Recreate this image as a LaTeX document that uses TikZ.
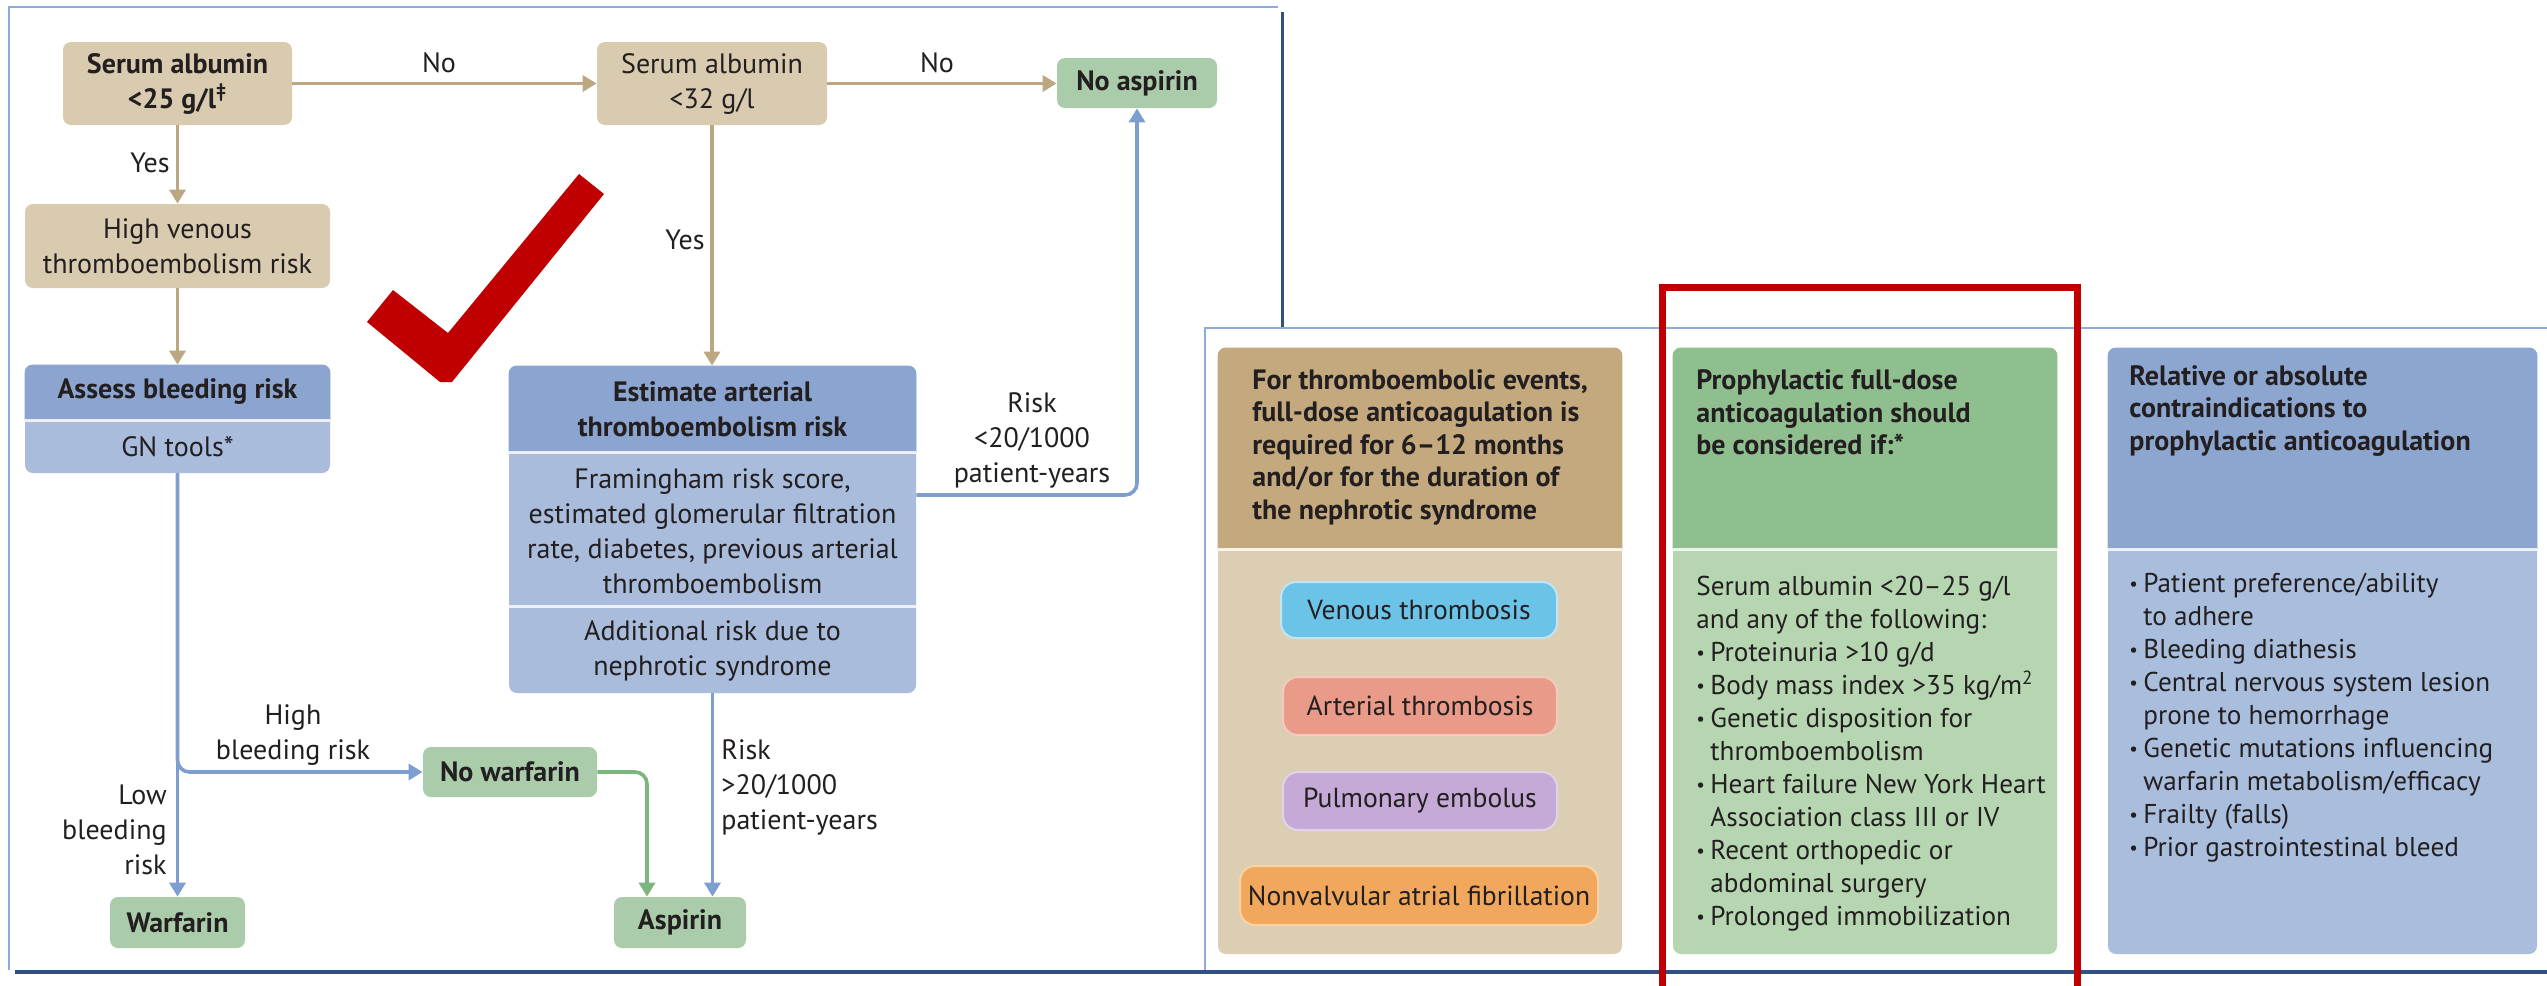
\documentclass[tikz,border=0pt]{standalone}
\usepackage{fontspec}
\setmainfont{PT Sans}
\usetikzlibrary{arrows.meta}

\definecolor{ink}{HTML}{231F20}
\definecolor{tanfill}{HTML}{D9CBB0}
\definecolor{tanline}{HTML}{BBA881}
\definecolor{bluehdr}{HTML}{8BA5D0}
\definecolor{bluebody}{HTML}{A9BCDB}
\definecolor{blueline}{HTML}{7E9ED0}
\definecolor{greenfill}{HTML}{AACCAA}
\definecolor{greenline}{HTML}{7DB57F}
\definecolor{frameblue}{HTML}{8FAADC}
\definecolor{darkblue}{HTML}{2F5080}
\definecolor{checkred}{HTML}{C00000}
\definecolor{cAhdr}{HTML}{C3A97D}
\definecolor{cAbody}{HTML}{DCCEB2}
\definecolor{cBhdr}{HTML}{8FBF8F}
\definecolor{cBbody}{HTML}{B6D6B1}
\definecolor{cChdr}{HTML}{8DA6D0}
\definecolor{cCbody}{HTML}{A9BDDD}
\definecolor{venfill}{HTML}{6CC3E8}
\definecolor{venedge}{HTML}{BFE4F4}
\definecolor{artfill}{HTML}{E99A88}
\definecolor{artedge}{HTML}{F5CABD}
\definecolor{pulfill}{HTML}{C5A9D6}
\definecolor{puledge}{HTML}{E2D3EB}
\definecolor{nvffill}{HTML}{F2A85C}
\definecolor{nvfedge}{HTML}{F9D3A5}

% bullet with hanging indent for the lists
\newcommand\bul{\makebox[7pt][l]{\raisebox{0.15ex}{\scalebox{0.7}{•}}}}
\newcommand\cont{\makebox[7pt][l]{}}

\begin{document}
\begin{tikzpicture}[x=0.5pt,y=-0.5pt,
  flowfont/.style={font=\fontsize{14pt}{17.5pt}\selectfont},
  flowbold/.style={font=\bfseries\fontsize{14pt}{17.5pt}\selectfont},
  flow/.style={rounded corners=4pt, inner sep=0pt, align=center, text=ink, flowfont},
  tanbox/.style={flow, fill=tanfill},
  greenbox/.style={flow, fill=greenfill, flowbold},
  lbl/.style={inner sep=0pt, text=ink, align=center, flowfont},
  tip/.style={-{Triangle[width=8pt,length=7pt]}},
  tanarrow/.style={draw=tanline, line width=1.8pt, tip},
  bluearrow/.style={draw=blueline, line width=1.8pt, tip},
  greenarrow/.style={draw=greenline, line width=1.8pt, tip},
  sepline/.style={draw=white, line width=1.5pt, opacity=0.8},
  frame/.style={draw=frameblue, line width=1pt},
  darkframe/.style={draw=darkblue, line width=1.5pt},
  colbox/.style={rounded corners=4pt, inner sep=0pt},
  hdtext/.style={inner sep=0pt, text=ink, align=left, anchor=west,
    font=\bfseries\fontsize{14pt}{16.25pt}\selectfont},
  bdtext/.style={inner sep=0pt, text=ink, align=left, anchor=west,
    font=\fontsize{13.6pt}{16.5pt}\selectfont},
  pill/.style={rounded corners=7.5pt, inner sep=0pt, line width=1pt, text=ink,
    font=\fontsize{13.8pt}{16pt}\selectfont}
]
\clip (0,0) rectangle (2547,985);
\fill[white] (0,0) rectangle (2547,985);

% panel frames
\draw[frame] (9,970) -- (9,7) -- (1278,7);
\draw[darkframe] (1282,12) -- (1282,328);
\draw[frame] (1205,970) -- (1205,328) -- (2547,328);
\draw[darkframe, line width=2pt] (15,972) -- (2547,972);

% ---------------- flowchart ----------------
\node[tanbox, flowbold, minimum width=114.5pt, minimum height=41.5pt] (alb25) at (177.5,83.5)
  {Serum albumin\\<25 g/l\textsuperscript{‡}};
\node[tanbox, minimum width=115pt, minimum height=41.5pt] (alb32) at (712,83.5)
  {Serum albumin\\<32 g/l};
\node[greenbox, minimum width=80pt, minimum height=25pt] (noasp) at (1137,83) {No aspirin};
\node[tanbox, minimum width=152.5pt, minimum height=42pt] (hvte) at (177.5,246)
  {High venous\\thromboembolism risk};

% bleeding risk box: header and body
\node[flow, fill=bluebody, minimum width=152.5pt, minimum height=54pt] (assess) at (177.5,419) {};
\begin{scope}
  \clip (20,360) rectangle (335,419);
  \fill[bluehdr, rounded corners=4pt] (assess.north west) rectangle (assess.south east);
\end{scope}
\draw[sepline] (assess.west |- 0,420) -- (assess.east |- 0,420);
\node[lbl, flowbold] (assesshd) at (177.5,392) {Assess bleeding risk};
\node[lbl] (gntools) at (177.5,447) {GN tools*};

% arterial risk box: header and two sections
\node[flow, fill=bluebody, minimum width=203.5pt, minimum height=163.5pt] (est) at (712.5,529.5) {};
\begin{scope}
  \clip (500,360) rectangle (925,451);
  \fill[bluehdr, rounded corners=4pt] (est.north west) rectangle (est.south east);
\end{scope}
\draw[sepline] (est.west |- 0,452) -- (est.east |- 0,452);
\draw[sepline] (est.west |- 0,606.5) -- (est.east |- 0,606.5);
\node[lbl, flowbold] (esthd) at (712.5,409) {Estimate arterial\\thromboembolism risk};
\node[lbl] (estfac) at (712.5,531) {Framingham risk score,\\estimated glomerular filtration\\rate, diabetes, previous arterial\\thromboembolism};
\node[lbl] (estneph) at (712.5,651) {Additional risk due to\\nephrotic syndrome};

\node[greenbox, minimum width=87pt, minimum height=25pt] (nowarf) at (510,772) {No warfarin};
\node[greenbox, minimum width=67.5pt, minimum height=25.5pt] (warf) at (177.5,922.5) {Warfarin};
\node[greenbox, minimum width=66pt, minimum height=25.5pt] (asp) at (680,922.5) {Aspirin};

% connectors
\draw[tanarrow] (alb25.east) -- (alb32.west);
\draw[tanarrow] (alb32.east) -- (alb32.east -| noasp.west);
\draw[tanarrow] (alb25.south) -- (hvte.north);
\draw[tanarrow] (hvte.south) -- (assess.north);
\draw[tanarrow] (alb32.south) -- (alb32.south |- est.north);
\draw[bluearrow] (assess.south) -- (warf.north);
\draw[bluearrow, rounded corners=6pt] (assess.south) |- (nowarf.west);
\draw[bluearrow, rounded corners=6pt] ([yshift=17.25pt]est.east) -| (noasp.south);
\draw[bluearrow] (est.south) -- (est.south |- asp.north);
\draw[greenarrow, rounded corners=6pt] (nowarf.east) -| ([xshift=-16.5pt]asp.north);

% connector labels
\node[lbl] (no1) at (439,63) {No};
\node[lbl] (no2) at (937,63) {No};
\node[lbl] (yes1) at (150,163) {Yes};
\node[lbl] (yes2) at (685,240) {Yes};
\node[lbl] (highbl) at (293,735) {High\\bleeding risk};
\node[lbl, align=right, anchor=east] (lowbl) at (167,830) {Low\\bleeding\\risk};
\node[lbl, align=left, anchor=west] (riskhi) at (721,787) {Risk\\>20/1000\\patient-years};
\node[lbl] (risklo) at (1032,440) {Risk\\<20/1000\\patient-years};

% ---------------- recommendation columns ----------------
\node[colbox, fill=cAbody, minimum width=202pt, minimum height=303pt] (colA) at (1420,651) {};
\node[colbox, fill=cBbody, minimum width=192pt, minimum height=303pt] (colB) at (1865,651) {};
\node[colbox, fill=cCbody, minimum width=214.5pt, minimum height=303pt] (colC) at (2322.5,651) {};
\begin{scope}
  \clip (1200,340) rectangle (2547,548);
  \fill[cAhdr, rounded corners=4pt] (colA.north west) rectangle (colA.south east);
  \fill[cBhdr, rounded corners=4pt] (colB.north west) rectangle (colB.south east);
  \fill[cChdr, rounded corners=4pt] (colC.north west) rectangle (colC.south east);
\end{scope}
\draw[sepline] (colA.west |- 0,549) -- (colA.east |- 0,549);
\draw[sepline] (colB.west |- 0,549) -- (colB.east |- 0,549);
\draw[sepline] (colC.west |- 0,549) -- (colC.east |- 0,549);

\node[hdtext] (colAhd) at (1252,447) {For thromboembolic events,\\full-dose anticoagulation is\\required for 6–12 months\\and/or for the duration of\\the nephrotic syndrome};
\node[hdtext] (colBhd) at (1696,412.5) {Prophylactic full-dose\\anticoagulation should\\be considered if:*};
\node[hdtext] (colChd) at (2129,411) {Relative or absolute\\contraindications to\\prophylactic anticoagulation};

\node[pill, fill=venfill, draw=venedge, minimum width=138pt, minimum height=28pt] (venous) at (1419,610) {Venous thrombosis};
\node[pill, fill=artfill, draw=artedge, minimum width=137pt, minimum height=29pt] (arterial) at (1420,706) {Arterial thrombosis};
\node[pill, fill=pulfill, draw=puledge, minimum width=137pt, minimum height=29pt] (pulm) at (1420,801) {Pulmonary embolus};
\node[pill, fill=nvffill, draw=nvfedge, minimum width=179pt, minimum height=29.5pt] (nvaf) at (1419,895.5) {Nonvalvular atrial fibrillation};

\node[bdtext] (colBbd) at (1696,754) {Serum albumin <20–25 g/l\\and any of the following:\\
\bul Proteinuria >10 g/d\\
\bul Body mass index >35 kg/m\textsuperscript{2}\\
\bul Genetic disposition for\\\cont thromboembolism\\
\bul Heart failure New York Heart\\\cont Association class III or IV\\
\bul Recent orthopedic or\\\cont abdominal surgery\\
\bul Prolonged immobilization};
\node[bdtext] (colCbd) at (2129,718) {\bul Patient preference/ability\\\cont to adhere\\
\bul Bleeding diathesis\\
\bul Central nervous system lesion\\\cont prone to hemorrhage\\
\bul Genetic mutations influencing\\\cont warfarin metabolism/efficacy\\
\bul Frailty (falls)\\
\bul Prior gastrointestinal bleed};

% ---------------- highlight marks ----------------
\draw[checkred, line width=3.5pt] (1662.5,1000) -- (1662.5,287.5) -- (2077.5,287.5) -- (2077.5,1000);
\fill[checkred] (367,322) -- (393,290) -- (448,333) -- (579,174) -- (604,194) -- (452,382) -- (440,382) -- cycle;
\end{tikzpicture}
\end{document}
